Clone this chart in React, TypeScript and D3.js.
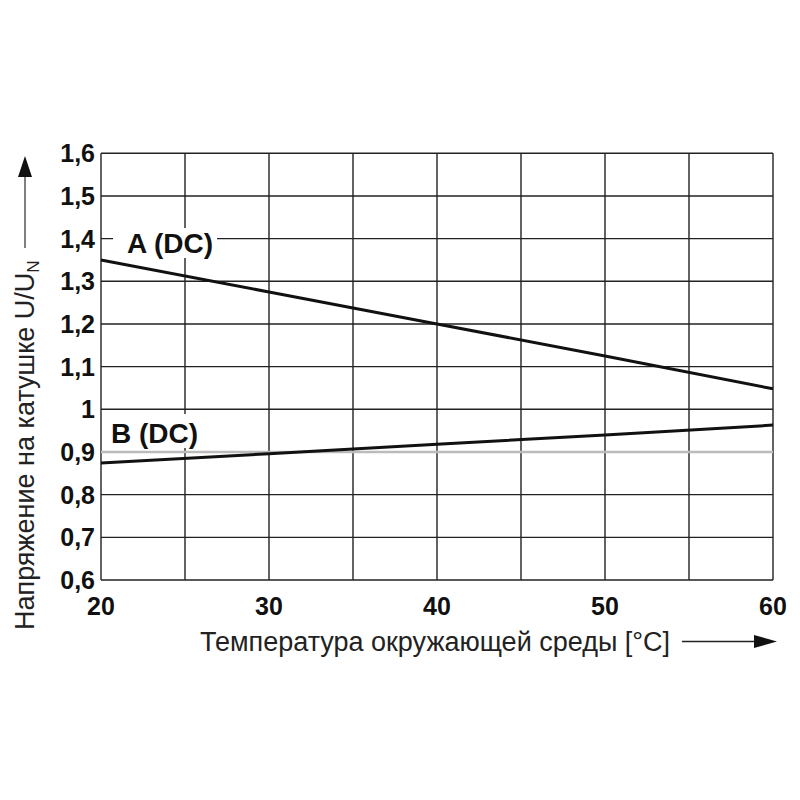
import React from "react";
import * as d3 from "d3";

const temps = [20, 30, 40, 50, 60];
const seriesA = [1.35, 1.275, 1.2, 1.125, 1.048];
const seriesB = [0.874, 0.896, 0.918, 0.94, 0.963];
const xTickLabels = [20, 30, 40, 50, 60];
const yTickValues = [0.6, 0.7, 0.8, 0.9, 1.0, 1.1, 1.2, 1.3, 1.4, 1.5, 1.6];
const xGridValues = [20, 25, 30, 35, 40, 45, 50, 55, 60];
const labelA = "A (DC)";
const labelB = "B (DC)";
const xTitle = "Температура окружающей среды [°C]";
const yTitle = "Напряжение на катушке U/U";
const ySub = "N";

export default function App() {
  const x = d3.scaleLinear().domain([20, 60]).range([101, 773]);
  const y = d3.scaleLinear().domain([0.6, 1.6]).range([580, 153.3]);
  const line = d3
    .line<number>()
    .x((_, i) => x(temps[i]))
    .y((d) => y(d));
  const fmt = (v: number) => (Math.abs(v - 1) < 1e-9 ? "1" : v.toFixed(1).replace(".", ","));
  const font = "'Liberation Sans', Arial, Helvetica, sans-serif";
  return (
    <svg
      width={800}
      height={800}
      style={{ position: "absolute", left: 0, top: 0, background: "#fff" }}
      fontFamily={font}
    >
      <rect x={0} y={0} width={800} height={800} fill="#fff" />
      {/* grid */}
      {xGridValues.map((v) => (
        <line key={"gx" + v} x1={x(v)} x2={x(v)} y1={y(0.6)} y2={y(1.6)} stroke="#222" strokeWidth={1.4} />
      ))}
      {yTickValues.map((v) => (
        <line
          key={"gy" + v}
          x1={x(20)}
          x2={x(60)}
          y1={y(v)}
          y2={y(v)}
          stroke={Math.abs(v - 0.9) < 1e-9 ? "#bbb" : "#222"}
          strokeWidth={Math.abs(v - 0.9) < 1e-9 ? 2.4 : 1.4}
        />
      ))}
      {/* label backgrounds */}
      <rect x={113} y={228} width={104} height={30} fill="#fff" />
      <rect x={106} y={414} width={96} height={34} fill="#fff" />
      {/* curves */}
      <path d={line(seriesA) || ""} fill="none" stroke="#111" strokeWidth={3} />
      <path d={line(seriesB) || ""} fill="none" stroke="#111" strokeWidth={3} />
      {/* curve labels */}
      <text x={127} y={253} fontSize={28} fontWeight="bold" fill="#111">
        {labelA}
      </text>
      <text x={111} y={443} fontSize={28} fontWeight="bold" fill="#111">
        {labelB}
      </text>
      {/* y tick labels */}
      {yTickValues.map((v) => (
        <text
          key={"ty" + v}
          x={95}
          y={y(v)}
          dy="0.36em"
          textAnchor="end"
          fontSize={25}
          fontWeight="bold"
          fill="#111"
        >
          {fmt(v)}
        </text>
      ))}
      {/* x tick labels */}
      {xTickLabels.map((v) => (
        <text key={"tx" + v} x={x(v)} y={615} textAnchor="middle" fontSize={25} fontWeight="bold" fill="#111">
          {v}
        </text>
      ))}
      {/* x title */}
      <text x={200} y={651} fontSize={27} fill="#222">
        {xTitle}
      </text>
      <line x1={682} x2={760} y1={641.5} y2={641.5} stroke="#222" strokeWidth={1.5} />
      <path d="M754,635 L777,641.5 L754,648 Z" fill="#111" />
      {/* y title */}
      <text transform="translate(34,630) rotate(-90)" x={0} y={0} fontSize={27} fill="#222">
        {yTitle}
        <tspan fontSize={17} dy={5}>
          {ySub}
        </tspan>
      </text>
      <line x1={25} x2={25} y1={248} y2={170} stroke="#555" strokeWidth={1.5} />
      <path d="M18,177 L25,156 L32,177 Z" fill="#111" />
    </svg>
  );
}
